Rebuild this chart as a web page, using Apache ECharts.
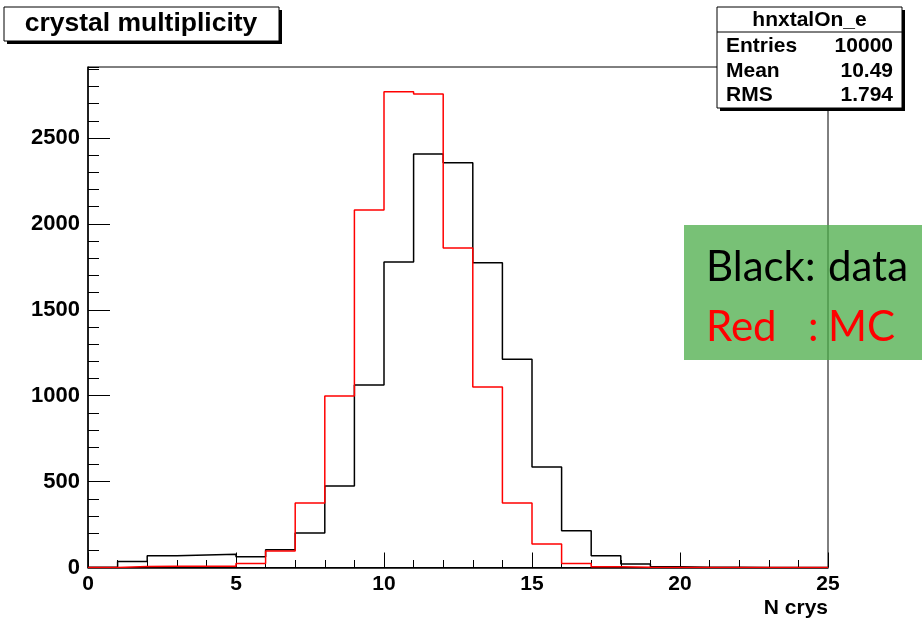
<!DOCTYPE html>
<html>
<head>
<meta charset="utf-8">
<script src="https://cdn.jsdelivr.net/npm/echarts@6/dist/echarts.min.js"></script>
<style>
  html, body { margin: 0; padding: 0; background: #fff; }
  #chart { width: 922px; height: 619px; }
</style>
</head>
<body>
<div id="chart"></div>
<script>
// Histogram of crystal multiplicity, unit-width bins from 0 to 25
const binEdges = [0, 1, 2, 3, 4, 5, 6, 7, 8, 9, 10, 11, 12, 13, 14, 15, 16, 17, 18, 19, 20, 21, 22, 23, 24];
const dataCounts = [2, 35, 69, 73, 77, 63, 104, 201, 474, 1062, 1778, 2407, 2356, 1774, 1212, 585, 214, 69, 20, 5, 2, 1, 0, 0, 0];
const mcCounts = [0, 6, 8, 8, 8, 24, 96, 375, 998, 2081, 2769, 2756, 1860, 1051, 375, 137, 24, 5, 1, 0, 0, 0, 0, 0, 0];
const xTicks = [0, 5, 10, 15, 20, 25];
const yTicks = [0, 500, 1000, 1500, 2000, 2500];
const yMax = 2913;
const statRows = [['Entries', '10000'], ['Mean', '10.49'], ['RMS', '1.794']];
const histName = 'hnxtalOn_e';
const titleText = 'crystal multiplicity';

// Step outline: each bin drawn flat from its lower edge to the next edge
function stepPoints(counts) {
  const pts = binEdges.map((e, i) => [e, counts[i]]);
  pts.push([binEdges[binEdges.length - 1] + 1, counts[counts.length - 1]]);
  return pts;
}

const FONT = 'Liberation Sans';
const chart = echarts.init(document.getElementById('chart'), null, { renderer: 'canvas' });

const statX = 717, statY = 7, statW = 185, statH = 101;
const statGraphics = [
  { type: 'rect', shape: { x: statX + 3, y: statY + 3, width: statW, height: statH }, style: { fill: '#000' }, z: 100 },
  { type: 'rect', shape: { x: statX, y: statY, width: statW, height: statH }, style: { fill: '#fff', stroke: '#000', lineWidth: 1 }, z: 101 },
  { type: 'line', shape: { x1: statX, y1: 32, x2: statX + statW, y2: 32 }, style: { stroke: '#000', lineWidth: 1 }, z: 102 },
  { type: 'text', x: statX + statW / 2, y: 20, style: { text: histName, font: 'bold 21px "' + FONT + '"', fill: '#000', align: 'center', verticalAlign: 'middle' }, z: 102 }
];
const rowY = [46, 71, 95];
statRows.forEach((r, i) => {
  statGraphics.push({ type: 'text', x: statX + 9, y: rowY[i], style: { text: r[0], font: 'bold 21px "' + FONT + '"', fill: '#000', align: 'left', verticalAlign: 'middle' }, z: 102 });
  statGraphics.push({ type: 'text', x: statX + statW - 9, y: rowY[i], style: { text: r[1], font: 'bold 21px "' + FONT + '"', fill: '#000', align: 'right', verticalAlign: 'middle' }, z: 102 });
});

const titleGraphics = [
  { type: 'rect', shape: { x: 7, y: 10, width: 275, height: 34 }, style: { fill: '#000' }, z: 100 },
  { type: 'rect', shape: { x: 4, y: 7, width: 275, height: 34 }, style: { fill: '#fff', stroke: '#000', lineWidth: 1 }, z: 101 },
  { type: 'text', x: 141, y: 24, style: { text: titleText, font: 'bold 26.5px "' + FONT + '"', fill: '#000', align: 'center', verticalAlign: 'middle' }, z: 102 }
];

const noteFont = '42px Lato';
const row1Top = 246, row2Top = 306;
const noteGraphics = [
  { type: 'rect', shape: { x: 684, y: 225, width: 240, height: 135 }, style: { fill: 'rgba(75,172,72,0.75)' }, z: 90 },
  { type: 'text', x: 706, y: row1Top, style: { text: 'Black:', font: noteFont, fill: '#000', align: 'left', verticalAlign: 'top' }, z: 91 },
  { type: 'text', x: 828, y: row1Top, style: { text: 'data', font: noteFont, fill: '#000', align: 'left', verticalAlign: 'top' }, z: 91 },
  { type: 'text', x: 706, y: row2Top, style: { text: 'Red', font: noteFont, fill: '#ff0000', align: 'left', verticalAlign: 'top' }, z: 91 },
  { type: 'text', x: 808, y: row2Top, style: { text: ':', font: noteFont, fill: '#ff0000', align: 'left', verticalAlign: 'top' }, z: 91 },
  { type: 'text', x: 828, y: row2Top, style: { text: 'MC', font: noteFont, fill: '#ff0000', align: 'left', verticalAlign: 'top' }, z: 91 }
];

const option = {
  animation: false,
  backgroundColor: '#fff',
  grid: { left: 88, right: 94, top: 67, bottom: 51.5, show: true, borderColor: '#000', borderWidth: 1, backgroundColor: '#fff' },
  xAxis: {
    type: 'value', min: 0, max: 25, interval: 5,
    name: 'N crys', nameLocation: 'end', nameGap: 0,
    nameTextStyle: { fontFamily: FONT, fontWeight: 'bold', fontSize: 21, color: '#000', align: 'right', verticalAlign: 'top', padding: [30, 0, 0, 0] },
    axisLine: { show: true, lineStyle: { color: '#000', width: 1.5 } },
    axisTick: { show: true, inside: true, length: 15, lineStyle: { color: '#000', width: 1 } },
    minorTick: { show: true, splitNumber: 5, length: 7.5, lineStyle: { color: '#000', width: 1 } },
    axisLabel: { show: true, margin: 6, fontFamily: FONT, fontWeight: 'bold', fontSize: 21, color: '#000',
      formatter: v => (xTicks.indexOf(v) >= 0 ? String(v) : '') },
    splitLine: { show: false }
  },
  yAxis: [
    {
      type: 'value', min: 0, max: yMax, interval: 500, position: 'left',
      axisLine: { show: true, lineStyle: { color: '#000', width: 1.5 } },
      axisTick: { show: true, inside: true, length: 22, lineStyle: { color: '#000', width: 1 } },
      axisLabel: { show: true, margin: 8, showMaxLabel: false, fontFamily: FONT, fontWeight: 'bold', fontSize: 22, color: '#000',
        formatter: v => (yTicks.indexOf(v) >= 0 ? String(v) : '') },
      splitLine: { show: false }
    },
    {
      type: 'value', min: 0, max: yMax, interval: 100, position: 'left', offset: 0,
      axisLine: { show: false },
      axisTick: { show: true, inside: true, length: 11, lineStyle: { color: '#000', width: 1 } },
      axisLabel: { show: false },
      splitLine: { show: false }
    }
  ],
  series: [
    {
      name: 'data', type: 'line', step: 'end', showSymbol: false, yAxisIndex: 0,
      data: stepPoints(dataCounts),
      lineStyle: { color: '#000', width: 1.5 }, z: 3
    },
    {
      name: 'MC', type: 'line', step: 'end', showSymbol: false, yAxisIndex: 0,
      data: stepPoints(mcCounts),
      lineStyle: { color: '#ff0000', width: 1.5 }, z: 4
    }
  ],
  graphic: [].concat(titleGraphics, statGraphics, noteGraphics)
};

chart.setOption(option);
</script>
</body>
</html>
